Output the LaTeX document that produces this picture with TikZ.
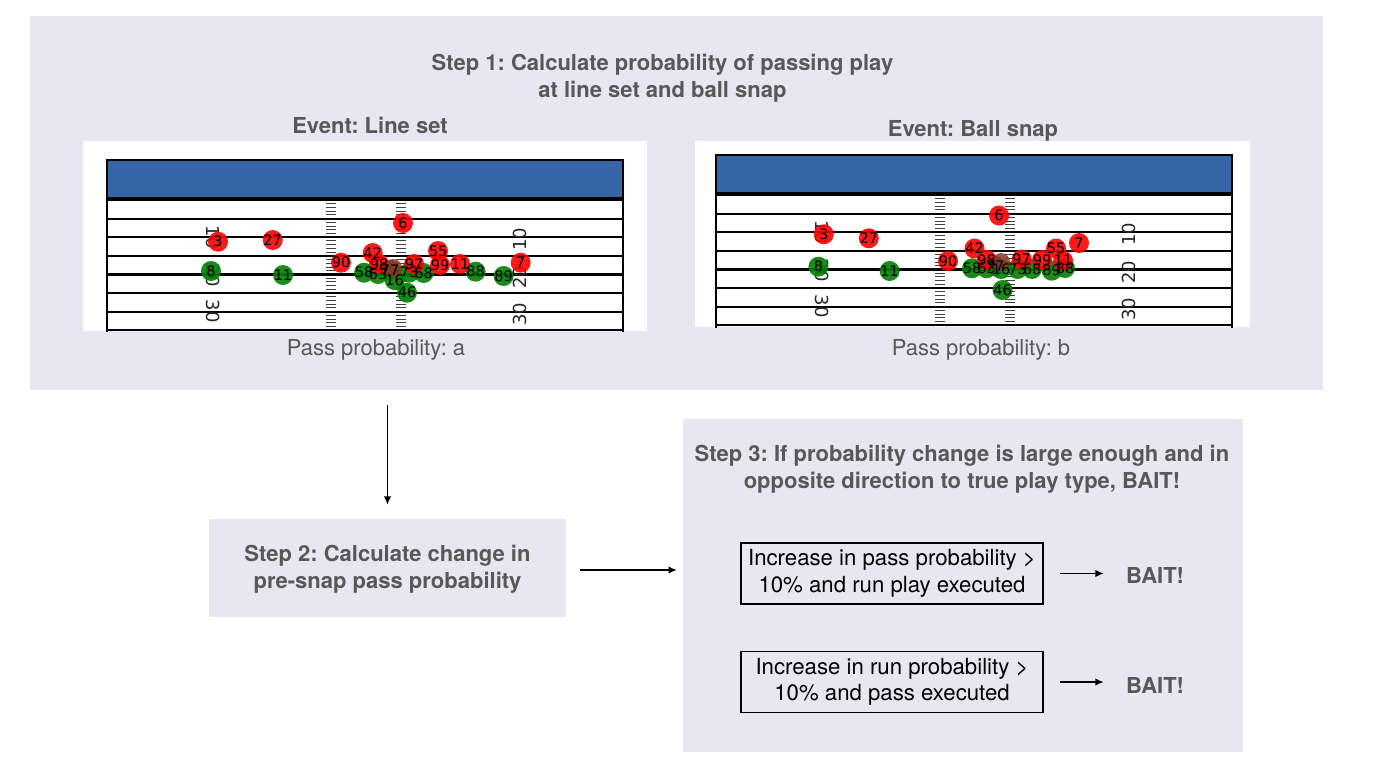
\documentclass[tikz,border=0pt]{standalone}
\usepackage{fontspec}
\setmainfont{TeX Gyre Heros}
\newfontfamily\dejavu{DejaVu Sans}
\usetikzlibrary{arrows.meta}
\frenchspacing
\definecolor{lav}{RGB}{232,230,241}
\definecolor{txtgray}{RGB}{88,88,88}
\definecolor{fieldblue}{RGB}{53,103,166}
\definecolor{pred}{RGB}{255,0,0}
\definecolor{pgreen}{RGB}{0,128,0}
\definecolor{ballc}{RGB}{139,50,40}

\newcommand\drawfieldbase[1]{%
  \fill[fieldblue] (107,160) rectangle (623,198);
  \foreach \k in {0,...,6}{%
    \foreach \j in {1,...,4}{%
      \draw[hashm] (326,{200+18.6*\k+3.72*\j}) -- (336,{200+18.6*\k+3.72*\j});
      \draw[hashm] (396,{200+18.6*\k+3.72*\j}) -- (406,{200+18.6*\k+3.72*\j});
    }}
  \foreach \k in {0,...,7}{\draw[fline] (107,{200+18.6*\k}) -- (623,{200+18.6*\k});}
  \draw[fborder] (107,335) -- (107,160) -- (623,160) -- (623,335);
  \draw[fborder] (107,198) -- (623,198);
  \node[yardnum, rotate=-90] (#1a) at (213,237) {10};
  \node[yardnum, rotate=-90] (#1b) at (213,275) {20};
  \node[yardnum, rotate=-90] (#1c) at (213,311) {30};
  \node[yardnum, rotate=90] (#1d) at (520,239) {10};
  \node[yardnum, rotate=90] (#1e) at (520,277) {20};
  \node[yardnum, rotate=90] (#1f) at (520,314) {30};
}

\def\LRed{218/241.7/3, 272.7/240/27, 403/223/6, 372.7/253/42, 438/251/55, 341/262.7/90, 379/264/98, 414/264/97, 440/265/99, 460/264/11, 520.7/262.7/7}
\def\LGreen{211/271/8, 283/275/11, 364/272.7/58, 378/274/63, 390/270/77, 394.5/280/16, 409/272.7/73, 423.6/273/68, 475.6/271.7/88, 503.6/276/89, 407/292.7/46}
\def\RRed{823.8/234.3/3, 868.8/238.3/27, 999/215.5/6, 974.5/248.5/42, 1056/248.5/55, 1079/243/7, 948/261/90, 986.7/260/98, 1021.7/259.5/97, 1042/260/99, 1063/260.7/11}
\def\RGreen{818.4/266.7/8, 889.6/271/11, 972/268.3/58, 986.7/268.3/63, 995/266/77, 1001/269/16, 1017.5/269/73, 1032/269/68, 1051.7/270.7/89, 1065/268/88, 1002.5/290/46}

\begin{document}
\begin{tikzpicture}[x=1pt,y=-1pt,
  lavbox/.style={fill=lav, draw=none, rectangle, inner sep=0pt},
  boldtxt/.style={font=\fontsize{22}{27}\selectfont\bfseries, text=txtgray, align=center, inner sep=0pt},
  regtxt/.style={font=\fontsize{22}{27}\selectfont, text=txtgray, align=center, inner sep=0pt},
  condbox/.style={draw=black, line width=1.5pt, fill=lav, rectangle, minimum width=302pt, minimum height=61pt, inner sep=0pt, align=center, font=\fontsize{22.2}{26.5}\selectfont, text=black},
  arr/.style={line width=1.7pt, -{Latex[length=8.5pt,width=7.5pt]}},
  hashm/.style={line width=0.9pt, black!75},
  fline/.style={line width=2.2pt, black},
  fborder/.style={line width=2.6pt, black},
  yardnum/.style={font=\dejavu\fontsize{18}{18}\selectfont, text=black!85, inner sep=0pt},
  plabel/.style={font=\dejavu\fontsize{14.5}{14.5}\selectfont, text=black, inner sep=0pt},
  redp/.style={fill=pred, fill opacity=0.9},
  greenp/.style={fill=pgreen, fill opacity=0.9},
  ballp/.style={fill=ballc, fill opacity=0.85}
]
\useasboundingbox (0,0) rectangle (1376,780);
\fill[white] (0,0) rectangle (1376,780);

% Step 1 panel
\node[lavbox, minimum width=1293pt, minimum height=374pt, anchor=north west] (s1) at (30,16) {};
\node[boldtxt] (s1title) at (662.5,78.5) {Step 1: Calculate probability of passing play\\at line set and ball snap};
\node[boldtxt] (evL) at (370,125) {Event: Line set};
\node[boldtxt] (evR) at (973,131) {Event: Ball snap};
\node[regtxt] (ppa) at (376,350) {Pass probability: a};
\node[regtxt] (ppb) at (981,350) {Pass probability: b};

% left field
\begin{scope}
  \clip (83,141) rectangle (647,331);
  \fill[white] (83,141) rectangle (647,331);
  \drawfieldbase{lf}
  \foreach \x/\y/\n in \LGreen {\fill[greenp] (\x,\y) circle (10pt);}
  \foreach \x/\y/\n in \LRed {\fill[redp] (\x,\y) circle (10pt);}
  \fill[ballp] (393,268) circle (9pt);
  \foreach \x/\y/\n [count=\i] in \LGreen {\node[plabel] (lg\i) at (\x,\y) {\n};}
  \foreach \x/\y/\n [count=\i] in \LRed {\node[plabel] (lr\i) at (\x,\y) {\n};}
\end{scope}

% right field
\begin{scope}
  \clip (695,141) rectangle (1250,327);
  \fill[white] (695,141) rectangle (1250,327);
  \begin{scope}[shift={(609,-5)}]
    \drawfieldbase{rf}
  \end{scope}
  \foreach \x/\y/\n in \RGreen {\fill[greenp] (\x,\y) circle (10pt);}
  \foreach \x/\y/\n in \RRed {\fill[redp] (\x,\y) circle (10pt);}
  \fill[ballp] (1001,262) circle (9pt);
  \foreach \x/\y/\n [count=\i] in \RGreen {\node[plabel] (rg\i) at (\x,\y) {\n};}
  \foreach \x/\y/\n [count=\i] in \RRed {\node[plabel] (rr\i) at (\x,\y) {\n};}
\end{scope}

% Step 2
\node[lavbox, minimum width=357pt, minimum height=98pt] (s2) at (387.5,568) {};
\node[boldtxt] (s2t) at (387.5,569) {Step 2: Calculate change in\\pre-snap pass probability};

% Step 3
\node[lavbox, minimum width=560pt, minimum height=333pt, anchor=north west] (s3) at (683,419) {};
\node[boldtxt] (s3t) at (962,469) {Step 3: If probability change is large enough and in\\opposite direction to true play type, BAIT!};
\node[condbox] (c1) at (892,573.5) {Increase in pass probability >\\10\% and run play executed};
\node[condbox] (c2) at (892,682) {Increase in run probability >\\10\% and pass executed};
\node[boldtxt] (b1) at (1155,575) {BAIT!};
\node[boldtxt] (b2) at (1155,685) {BAIT!};

% connectors
\draw[arr, shorten <=15pt, shorten >=14pt] (s1.south -| s2.north) -- (s2.north);
\draw[arr, shorten <=14pt, shorten >=6pt] ([yshift=-2pt]s2.east) -- ([yshift=-2pt]s2.east -| s3.west);
\draw[arr, shorten <=16pt, shorten >=22pt] (c1.east) -- (c1.east -| b1.west);
\draw[arr, shorten <=16pt, shorten >=22pt] (c2.east) -- (c2.east -| b2.west);
\end{tikzpicture}
\end{document}
